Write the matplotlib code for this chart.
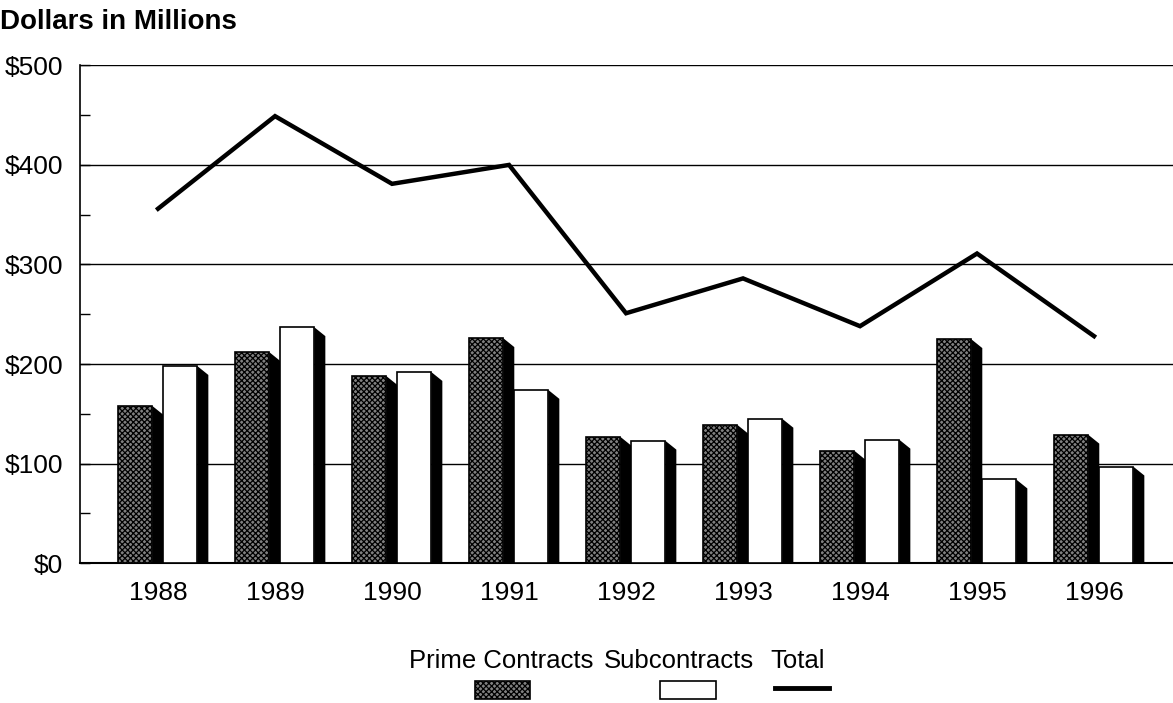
import matplotlib
matplotlib.use("Agg")
import matplotlib.pyplot as plt
from matplotlib.patches import Rectangle
from matplotlib.lines import Line2D

years = ['1988', '1989', '1990', '1991', '1992', '1993', '1994', '1995', '1996']
prime = [158, 212, 188, 226, 127, 139, 113, 225, 129]
sub = [198, 237, 192, 174, 123, 145, 124, 84, 97]
total = [356, 449, 381, 400, 251, 286, 238, 311, 228]

plt.rcParams['font.family'] = ['Liberation Sans', 'DejaVu Sans']
plt.rcParams['hatch.color'] = 'white'
plt.rcParams['hatch.linewidth'] = 0.9

fig = plt.figure(figsize=(11.73, 7.03), dpi=100)
ax = fig.add_axes([0.0682, 0.199, 0.9318, 0.708])

w = 0.29
dx = 0.095
dy = 9
prime_fc = '#808080'

def bar3d(x0, h, fc, hatch=None):
    # black side face
    ax.fill([x0 + w, x0 + w + dx, x0 + w + dx, x0 + w],
            [h, h - dy, 0, 0], color='black', zorder=3, lw=0)
    ax.add_patch(Rectangle((x0, 0), w, h, facecolor=fc, edgecolor='black',
                           lw=1.2, hatch=hatch, zorder=4))

for i in range(len(years)):
    bar3d(i - 0.34, prime[i], prime_fc, 'xxxxxx')
    bar3d(i + 0.045, sub[i], 'white')

ax.plot(range(len(years)), total, color='black', lw=3.2, zorder=5,
        solid_joinstyle='miter')

ax.set_xlim(-0.667, 8.675)
ax.set_ylim(0, 500)
ax.set_yticks(range(0, 501, 100))
ax.set_yticklabels(['$0', '$100', '$200', '$300', '$400', '$500'])
ax.set_yticks(range(50, 500, 100), minor=True)
ax.set_xticks(range(len(years)))
ax.set_xticklabels(years)
ax.tick_params(axis='x', length=0, pad=13, labelsize=19)
ax.tick_params(axis='y', which='both', direction='in', length=7, width=1,
               labelsize=19, pad=12)
ax.grid(axis='y', color='black', lw=1.0, zorder=1)
ax.set_axisbelow(True)
for s in ['top', 'right']:
    ax.spines[s].set_visible(False)
ax.spines['left'].set_linewidth(1.2)
ax.spines['bottom'].set_linewidth(1.5)

fig.text(0.0, 0.968, 'Dollars in Millions', fontsize=20, fontweight='bold',
         ha='left', va='center')

# legend drawn by hand below the plot
fig.text(0.427, 0.060, 'Prime Contracts', fontsize=18.5, ha='center', va='center')
fig.text(0.579, 0.060, 'Subcontracts', fontsize=18.5, ha='center', va='center')
fig.text(0.680, 0.060, 'Total', fontsize=18.5, ha='center', va='center')
fig.patches.append(Rectangle((0.405, 0.005), 0.047, 0.027, transform=fig.transFigure,
                             facecolor=prime_fc, edgecolor='black', lw=1.2,
                             hatch='xxxxxx', figure=fig))
fig.patches.append(Rectangle((0.563, 0.005), 0.047, 0.027, transform=fig.transFigure,
                             facecolor='white', edgecolor='black', lw=1.2, figure=fig))
fig.lines.append(Line2D([0.661, 0.707], [0.021, 0.021], transform=fig.transFigure,
                        color='black', lw=3.5, figure=fig))

fig.savefig('out.png', dpi=100)
